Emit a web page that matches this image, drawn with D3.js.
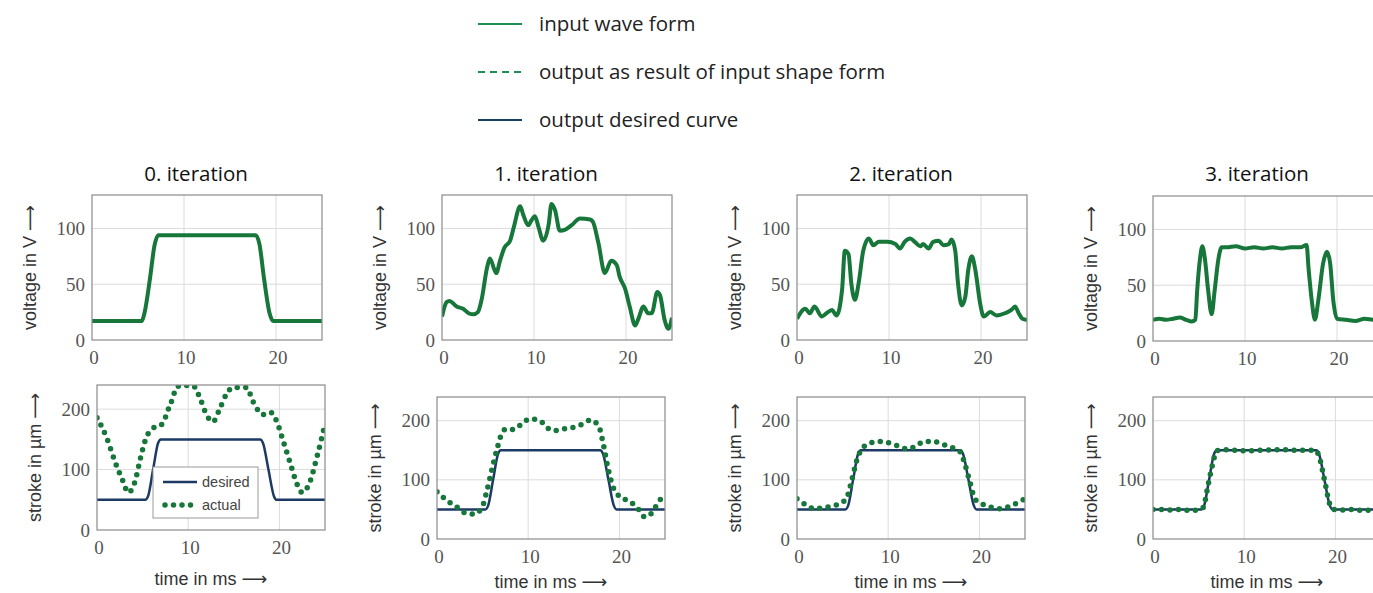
<!DOCTYPE html>
<html>
<head>
<meta charset="utf-8">
<script src="https://cdn.jsdelivr.net/npm/d3@7"></script>
<style>
  body { margin: 0; background: #fff; }
  svg { display: block; }
</style>
</head>
<body>
<svg width="1373" height="593"></svg>
<script>
// ---- data ----
var iterTitles = ["0. iteration", "1. iteration", "2. iteration", "3. iteration"];
var legendLabels = ["input wave form", "output as result of input shape form", "output desired curve"];
var timeTicks = [0, 10, 20];
var voltTicks = [0, 50, 100];
var strokeTicks = [0, 100, 200];

// desired stroke (same target for every iteration)
var desired = [[0,50],[5.3,50],[5.6,56],[6.15,100],[6.7,144],[7.0,150],[17.9,150],[18.2,144],[18.8,100],[19.4,56],[19.7,50],[25,50]];

// input voltage per iteration [time ms, volt]
var input0 = [[0,17],[5.4,17],[5.7,24],[6.3,55],[6.8,85],[7.2,94],[17.8,94],[18.2,86],[18.7,55],[19.3,24],[19.7,17],[25,17]];
var input1 = [[0,21],[0.5,34],[0.8,35],[1.6,30],[2.3,28],[2.9,24],[3.4,23],[3.9,25],[4.3,36],[4.9,65],[5.2,73],[5.9,60],[6.3,71],[6.8,83],[7.4,89],[7.8,101],
  [8.5,120],[8.8,113],[9.4,103],[9.7,107],[10.1,111],[10.5,101],[11.0,89],[11.6,104],[11.9,122],[12.3,116],[12.8,98],[13.4,99],[14.1,103],[15.0,109],[16.1,108],
  [16.4,106],[17.0,87],[17.7,60],[18.4,71],[19.0,67],[19.3,57],[19.9,46],[20.4,30],[21.0,13],[21.3,18],[21.9,30],[22.4,24],[22.8,24],[23.4,43],[23.7,40],
  [24.2,18],[24.6,10],[25,20]];
var input2 = [[0,19],[0.9,28],[1.4,24],[1.9,30],[2.7,21],[3.2,24],[3.8,27],[4.3,22],[4.9,45],[5.2,80],[5.6,77],[5.9,51],[6.3,36],[6.7,51],[7.2,80],[7.8,91],
  [8.3,85],[8.9,88],[9.8,88],[10.7,86],[11.2,82],[11.7,88],[12.3,91],[12.8,88],[13.4,84],[13.7,86],[14.3,82],[14.8,88],[15.4,89],[15.9,85],[16.5,86],[16.8,90],
  [17.2,80],[17.5,51],[17.9,31],[18.3,39],[18.6,62],[19.0,75],[19.4,62],[19.9,33],[20.3,21],[21.0,25],[21.7,22],[22.6,24],[23.3,27],[23.7,30],[24.1,24],
  [24.5,19],[25,18]];
var input3 = [[0,19],[0.7,20],[1.4,19],[2.2,20],[2.9,21],[3.6,19],[4.2,17.5],[4.6,19],[4.8,45],[5.1,73],[5.36,85],[5.65,73],[6.0,45],[6.37,24],[6.7,45],
  [7.1,73],[7.47,84],[8,84],[9,85],[10,83],[11,84],[12,83],[13,84],[14,83],[15,84],[16,84],[16.7,86],[16.9,66],[17.26,36],[17.6,19],[17.96,36],[18.5,70],
  [18.9,80],[19.25,70],[19.6,36],[20.0,20],[21,19],[22,18],[23,20],[24,19],[25,20]];

// actual stroke per iteration [time ms, µm]
var actual0 = [[0,186],[1.1,151],[2.0,112],[2.9,79],[3.4,62],[4.2,82],[4.7,115],[5.4,153],[6.2,169],[7.3,177],[7.6,191],[8.3,218],[8.7,236],[9.2,239],
  [10.5,239],[11.3,218],[12.0,191],[12.7,179],[13.5,202],[14.2,225],[14.9,236],[16.4,236],[17.1,213],[18.2,191],[19.0,195],[19.7,180],[20.4,148],
  [21.2,110],[21.9,77],[22.5,62],[23.4,82],[24.1,120],[25,175]];
var actual1 = [[0,80],[1.1,65],[2.2,54],[3.1,44],[4.0,42],[4.9,52],[5.4,77],[6.0,116],[6.6,153],[7.1,178],[7.6,186],[8.4,185],[9.1,192],[10.2,203],
  [11.3,200],[12.0,189],[12.8,183],[13.9,186],[15.0,189],[16.1,195],[16.8,201],[17.7,192],[18.2,163],[18.8,116],[19.3,88],[20.1,71],[21.2,63],
  [22.1,50],[22.8,37],[23.5,43],[24.3,63],[25,75]];
var actual2 = [[0,68],[1.05,57],[1.9,51],[2.9,53],[3.8,55],[4.7,60],[5.4,68],[6.0,99],[6.5,130],[7.1,152],[8.0,162],[9.1,165],[10.2,162],[11.3,156],
  [12.2,152],[13.1,158],[14.0,165],[14.9,165],[16.0,160],[17.1,154],[17.9,147],[18.4,127],[19.0,94],[19.5,68],[20.2,60],[21.2,54],[22.3,51],
  [23.3,55],[24.4,63],[25,68]];
var actual3 = [[0,50],[1,50],[2,49],[3,50],[4,48],[5,49],[5.5,53],[6.0,88],[6.5,124],[7.0,149],[8,151],[10,149],[12,150],[14,151],[16,150],[17.8,150],
  [18.2,140],[18.8,100],[19.4,58],[19.8,50],[21,49],[22,50],[23,48],[24,49],[25,50]];

var inputs = [input0, input1, input2, input3];
var actuals = [actual0, actual1, actual2, actual3];

// ---- layout ----
var svg = d3.select("svg");
var topBox = {left: [92, 442, 797, 1153], top: [195, 195, 195, 196], width: 230, height: 145};
var botBox = {left: [97, 437, 797, 1153], top: [385, 397, 397, 397], width: 228, height: [145, 142, 142, 142], label: [55, 49, 49, 49]};

var green = "#17773a", navy = "#1c3a64";
var serif = "'Liberation Serif', 'DejaVu Serif', serif";
var sans = "'Liberation Sans', 'DejaVu Sans', sans-serif";
var myriad = "'Open Sans', 'Noto Sans', sans-serif";

function font(sel, family, size) {
    return sel.attr("font-family", family).attr("font-size", size);
}

// top legend
var leg = svg.append("g");
var legStyles = [
    {color: "#1f8c55", dash: null},
    {color: "#1f8c55", dash: "7,5"},
    {color: "#173f5f", dash: null}
];
legendLabels.forEach(function (lab, i) {
    var y = 24 + i * 48;
    leg.append("line")
        .attr("x1", 478).attr("x2", 522).attr("y1", y).attr("y2", y)
        .attr("stroke", legStyles[i].color).attr("stroke-width", 2.2)
        .attr("stroke-dasharray", legStyles[i].dash);
    font(leg.append("text"), myriad, 20.5)
        .attr("x", 539).attr("y", y).attr("dy", "0.35em")
        .attr("fill", "#222")
        .text(lab);
});

var clipId = 0;
function panel(left, top, w, h, yMax, yTicks, yLabel) {
    var g = svg.append("g").attr("transform", "translate(" + left + "," + top + ")");
    var x = d3.scaleLinear().domain([0, 25]).range([0, w]);
    var y = d3.scaleLinear().domain([0, yMax]).range([h, 0]);

    // grid
    g.append("g").selectAll("line").data(timeTicks.slice(1)).enter().append("line")
        .attr("x1", x).attr("x2", x).attr("y1", 0).attr("y2", h)
        .attr("stroke", "#dcdcdc").attr("stroke-width", 1);
    g.append("g").selectAll("line").data(yTicks.slice(1)).enter().append("line")
        .attr("x1", 0).attr("x2", w).attr("y1", y).attr("y2", y)
        .attr("stroke", "#dcdcdc").attr("stroke-width", 1);

    // tick labels
    font(g.append("g"), serif, 19).attr("fill", "#555")
        .selectAll("text").data(yTicks).enter().append("text")
        .attr("x", -7).attr("y", y).attr("dy", "0.35em").attr("text-anchor", "end")
        .text(function (d) { return d; });
    font(g.append("g"), serif, 19).attr("fill", "#555")
        .selectAll("text").data(timeTicks).enter().append("text")
        .attr("x", function (d) { return x(d) + 2; }).attr("y", h + 24).attr("text-anchor", "middle")
        .text(function (d) { return d; });

    font(g.append("text"), sans, 18)
        .attr("transform", "translate(" + (-62) + "," + (h / 2) + ") rotate(-90)")
        .attr("text-anchor", "middle").attr("dy", "0.35em")
        .attr("fill", "#333")
        .text(yLabel);

    var id = "clip" + (clipId++);
    g.append("clipPath").attr("id", id).append("rect").attr("width", w).attr("height", h);
    var plot = g.append("g").attr("clip-path", "url(#" + id + ")");

    g.append("rect").attr("width", w).attr("height", h)
        .attr("fill", "none").attr("stroke", "#8a8a8a").attr("stroke-width", 1.2);

    var line = d3.line().curve(d3.curveMonotoneX)
        .x(function (d) { return x(d[0]); })
        .y(function (d) { return y(d[1]); });
    return {g: g, plot: plot, line: line, x: x, y: y};
}

for (var i = 0; i < 4; i++) {
    // top: input voltage
    var p = panel(topBox.left[i], topBox.top[i], topBox.width, topBox.height, 130, voltTicks, "voltage in V \u27F6");
    p.plot.append("path").attr("d", p.line(inputs[i]))
        .attr("fill", "none").attr("stroke", green).attr("stroke-width", 4)
        .attr("stroke-linejoin", "round");

    font(svg.append("text"), myriad, 20.5)
        .attr("x", topBox.left[i] + topBox.width / 2 - 11).attr("y", 174).attr("dy", "0.35em")
        .attr("text-anchor", "middle")
        .attr("fill", "#111")
        .text(iterTitles[i]);

    // bottom: stroke
    var q = panel(botBox.left[i], botBox.top[i], botBox.width, botBox.height[i], 240, strokeTicks, "stroke in \u00B5m \u27F6");
    q.plot.append("path").attr("d", q.line(desired))
        .attr("fill", "none").attr("stroke", navy).attr("stroke-width", 2.5);
    q.plot.append("path").attr("d", q.line(actuals[i]))
        .attr("fill", "none").attr("stroke", green).attr("stroke-width", 5.5)
        .attr("stroke-linecap", "round").attr("stroke-dasharray", "0,8.5");

    font(svg.append("text"), sans, 18)
        .attr("x", botBox.left[i] + botBox.width / 2).attr("y", botBox.top[i] + botBox.height[i] + botBox.label[i])
        .attr("text-anchor", "middle")
        .attr("fill", "#333")
        .text("time in ms \u27F6");

    if (i === 0) {
        // inner legend of the first stroke plot
        var lg = q.g.append("g").attr("transform", "translate(56,82)");
        lg.append("rect").attr("width", 105).attr("height", 51)
            .attr("fill", "#fff").attr("stroke", "#9a9a9a").attr("stroke-width", 1);
        lg.append("line").attr("x1", 10).attr("x2", 44).attr("y1", 15).attr("y2", 15)
            .attr("stroke", navy).attr("stroke-width", 2.5);
        lg.append("line").attr("x1", 12).attr("x2", 44).attr("y1", 38).attr("y2", 38)
            .attr("stroke", green).attr("stroke-width", 5.5)
            .attr("stroke-linecap", "round").attr("stroke-dasharray", "0,8.5");
        font(lg.append("text"), sans, 14.5).attr("x", 49).attr("y", 15).attr("dy", "0.35em")
            .attr("fill", "#444").text("desired");
        font(lg.append("text"), sans, 14.5).attr("x", 49).attr("y", 38).attr("dy", "0.35em")
            .attr("fill", "#444").text("actual");
    }
}
</script>
</body>
</html>
